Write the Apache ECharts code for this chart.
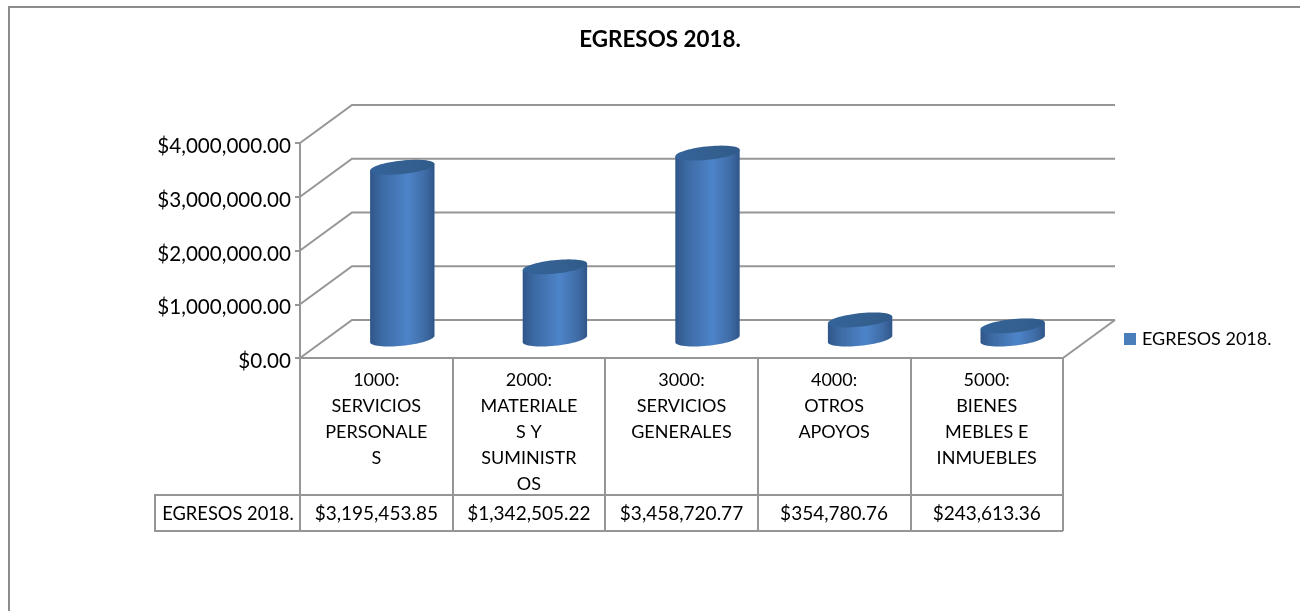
<!DOCTYPE html>
<html>
<head>
    <meta charset="UTF-8">
    <title>EGRESOS 2018.</title>
    <script src="https://cdnjs.cloudflare.com/ajax/libs/echarts/6.0.0/echarts.min.js"></script>
    <style>
        html, body { margin: 0; padding: 0; background: #fff; }
        #chart { width: 1300px; height: 611px; }
    </style>
</head>
<body>
    <div id="chart"></div>

    <script>
        // Chart data
        var titleText = 'EGRESOS 2018.';
        var seriesName = 'EGRESOS 2018.';
        var categories = [
            '1000:\nSERVICIOS\nPERSONALE\nS',
            '2000:\nMATERIALE\nS Y\nSUMINISTR\nOS',
            '3000:\nSERVICIOS\nGENERALES',
            '4000:\nOTROS\nAPOYOS',
            '5000:\nBIENES\nMEBLES E\nINMUEBLES'
        ];
        var egresos = [3195453.85, 1342505.22, 3458720.77, 354780.76, 243613.36];
        var yTicks = [0, 1000000, 2000000, 3000000, 4000000];

        // Look and layout
        var fontName = 'Lato';
        var gray = '#969696';
        var depthX = 52, depthY = -38;
        var rowTop = 137, rowBottom = 173;   // data table row, measured down from the axis
        var headerWidth = 145;

        function money(v) {
            return '$' + v.toLocaleString('en-US', { minimumFractionDigits: 2, maximumFractionDigits: 2 });
        }

        // Walls and floor: every gridline goes back from the front plane to the back wall
        function renderWalls(params, api) {
            var cs = params.coordSys;
            var y = api.coord([0, api.value(1)])[1];
            var children = [{
                type: 'polyline',
                shape: { points: [[cs.x, y], [cs.x + depthX, y + depthY], [cs.x + cs.width + depthX, y + depthY]] },
                style: { fill: null, stroke: gray, lineWidth: 2 }
            }];
            if (api.value(1) === 0) {
                children.push({
                    type: 'line',
                    shape: { x1: cs.x + cs.width, y1: y, x2: cs.x + cs.width + depthX, y2: y + depthY },
                    style: { stroke: gray, lineWidth: 2 }
                });
            }
            return { type: 'group', children: children };
        }

        // Slanted cylinder, ellipse is the circle inside the floor parallelogram
        function ellipsePoint(c, t) {
            return [c[0] + 29 * Math.cos(t) + 14 * Math.sin(t), c[1] - 7.5 * Math.sin(t)];
        }

        function renderCylinder(params, api) {
            var top = api.coord([api.value(0), api.value(1)]);
            var base = api.coord([api.value(0), 0]);
            var topC = [top[0] + depthX / 2, top[1] + depthY / 2];
            var baseC = [base[0] + depthX / 2, base[1] + depthY / 2];
            var t0 = Math.atan2(14, 29);
            var side = [], cap = [], i;
            side.push(ellipsePoint(topC, t0));
            for (i = 0; i <= 32; i++) {
                side.push(ellipsePoint(baseC, t0 - Math.PI * i / 32));
            }
            side.push(ellipsePoint(topC, t0 - Math.PI));
            for (i = 0; i < 64; i++) {
                cap.push(ellipsePoint(topC, Math.PI * 2 * i / 64));
            }
            return {
                type: 'group',
                children: [{
                    type: 'polygon',
                    shape: { points: side },
                    style: {
                        fill: new echarts.graphic.LinearGradient(0, 0, 1, 0, [
                            { offset: 0, color: '#30568a' },
                            { offset: 0.18, color: '#3c6aa3' },
                            { offset: 0.58, color: '#4d84c9' },
                            { offset: 0.85, color: '#3f6ca6' },
                            { offset: 1, color: '#30568a' }
                        ])
                    }
                }, {
                    type: 'polygon',
                    shape: { points: cap },
                    style: {
                        fill: new echarts.graphic.LinearGradient(0, 0, 1, 0, [
                            { offset: 0, color: '#33639b' },
                            { offset: 0.6, color: '#34608f' },
                            { offset: 1, color: '#2f5a8a' }
                        ])
                    }
                }]
            };
        }

        // Data table row under the category labels
        function renderTableRow(params, api) {
            var cs = params.coordSys;
            var center = api.coord([api.value(0), 0]);
            var y0 = center[1];
            var children = [{
                type: 'text',
                x: center[0],
                y: y0 + (rowTop + rowBottom) / 2 + 1,
                style: {
                    text: money(api.value(1)),
                    fontFamily: fontName, fontSize: 19, fill: '#000',
                    align: 'center', verticalAlign: 'middle'
                }
            }];
            if (params.dataIndex === 0) {
                children.push({
                    type: 'polyline',
                    shape: { points: [
                        [cs.x + cs.width, y0 + rowTop], [cs.x - headerWidth, y0 + rowTop],
                        [cs.x - headerWidth, y0 + rowBottom], [cs.x + cs.width, y0 + rowBottom]
                    ] },
                    style: { fill: null, stroke: gray, lineWidth: 2 }
                }, {
                    type: 'text',
                    x: cs.x - headerWidth / 2 + 0.5,
                    y: y0 + (rowTop + rowBottom) / 2 + 1,
                    style: {
                        text: seriesName,
                        fontFamily: fontName, fontSize: 18.3, fill: '#000',
                        align: 'center', verticalAlign: 'middle'
                    }
                });
            }
            return { type: 'group', children: children };
        }

        var chart = echarts.init(document.getElementById('chart'));

        chart.setOption({
            animation: false,
            backgroundColor: '#fff',
            textStyle: { fontFamily: fontName },
            title: {
                text: titleText,
                left: 655,
                top: 24,
                textAlign: 'center',
                textStyle: { fontFamily: fontName, fontSize: 22.4, fontWeight: 'bold', color: '#000' }
            },
            legend: {
                data: [seriesName],
                left: 1124,
                top: 330,
                padding: 0,
                itemWidth: 12,
                itemHeight: 12,
                itemGap: 6,
                icon: 'rect',
                textStyle: { fontFamily: fontName, fontSize: 18, color: '#000', padding: [0, 0, 0, 1] }
            },
            grid: { left: 300, top: 143, width: 763, height: 215 },
            xAxis: {
                type: 'category',
                data: categories,
                axisLine: { show: true, lineStyle: { color: gray, width: 2 } },
                axisTick: { show: true, length: 173, lineStyle: { color: gray, width: 2 } },
                axisLabel: {
                    interval: 0,
                    margin: 9,
                    color: '#000',
                    fontFamily: fontName,
                    fontSize: 18,
                    lineHeight: 26,
                    align: 'center',
                    verticalAlign: 'top'
                },
                splitLine: { show: false }
            },
            yAxis: {
                type: 'value',
                min: 0,
                max: 4000000,
                interval: 1000000,
                axisLine: { show: true, lineStyle: { color: gray, width: 2 } },
                axisTick: { show: true, length: 5, lineStyle: { color: gray, width: 2 } },
                axisLabel: {
                    margin: 9,
                    color: '#000',
                    fontFamily: fontName,
                    fontSize: 20.6,
                    verticalAlign: 'top',
                    lineHeight: 7,
                    formatter: function (v) { return money(v); }
                },
                splitLine: { show: false }
            },
            series: [{
                name: 'walls',
                type: 'custom',
                z: 1,
                silent: true,
                renderItem: renderWalls,
                data: yTicks.map(function (v) { return [0, v]; })
            }, {
                name: seriesName,
                type: 'custom',
                z: 3,
                itemStyle: { color: '#4a7ebb' },
                renderItem: renderCylinder,
                data: egresos.map(function (v, i) { return [i, v]; })
            }, {
                name: 'table',
                type: 'custom',
                z: 2,
                silent: true,
                renderItem: renderTableRow,
                data: egresos.map(function (v, i) { return [i, v]; })
            }],
            graphic: [{
                // Only the top and left edges of the chart frame show in the picture
                type: 'polyline',
                silent: true,
                shape: { points: [[1300, 7], [9, 7], [9, 611]] },
                style: { fill: null, stroke: '#8c8c8c', lineWidth: 2 }
            }]
        });
    </script>
</body>
</html>
